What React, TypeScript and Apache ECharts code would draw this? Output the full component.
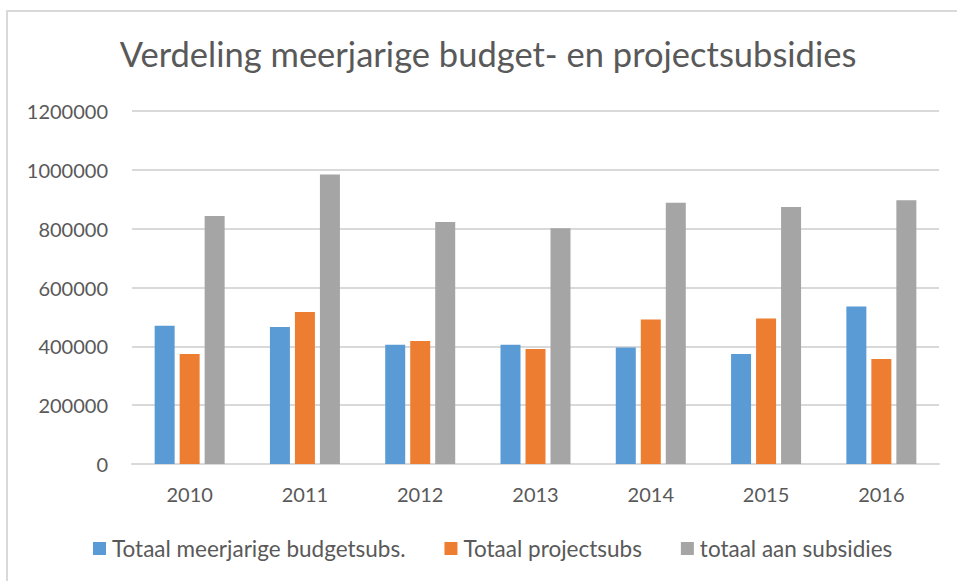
import React, { useEffect, useRef } from "react";
import * as echarts from "echarts";

const years = ["2010", "2011", "2012", "2013", "2014", "2015", "2016"];
const budgetSubs = [470000, 466000, 405000, 405000, 396000, 374000, 535000];
const projectSubs = [374000, 517000, 418000, 391000, 491000, 495000, 357000];
const totalSubs = [843000, 984000, 823000, 801000, 888000, 874000, 897000];
const seriesNames = [
  "Totaal meerjarige budgetsubs.",
  "Totaal projectsubs",
  "totaal aan subsidies",
];
const colors = ["#5B9BD5", "#ED7D31", "#A5A5A5"];
const titleText = "Verdeling meerjarige budget- en projectsubsidies";

export default function App() {
  const ref = useRef<HTMLDivElement>(null);
  useEffect(() => {
    if (!ref.current) return;
    const chart = echarts.init(ref.current, undefined, { renderer: "svg" });
    const font = "Lato, 'Open Sans', sans-serif";
    const textColor = "#595959";
    const dataSets = [budgetSubs, projectSubs, totalSubs];
    chart.setOption({
      animation: false,
      backgroundColor: "#ffffff",
      textStyle: { fontFamily: font },
      graphic: [
        {
          type: "rect",
          shape: { x: 7, y: 11, width: 1000, height: 1000 },
          style: { fill: "none", stroke: "#d9d9d9", lineWidth: 2 },
          silent: true,
        },
      ],
      title: {
        text: titleText,
        left: 488,
        textAlign: "center",
        top: 36,
        padding: 0,
        textStyle: {
          fontFamily: font,
          fontSize: 34.5,
          fontWeight: "normal",
          color: textColor,
        },
      },
      legend: {
        data: seriesNames,
        left: 93,
        top: 537,
        padding: 0,
        itemWidth: 13,
        itemHeight: 13,
        itemGap: 39,
        icon: "rect",
        textStyle: { fontFamily: font, fontSize: 22.5, color: textColor, padding: [0, 0, 0, 1] },
      },
      grid: { left: 132, right: 18, top: 111, bottom: 117, containLabel: false },
      xAxis: {
        type: "category",
        data: years,
        axisLine: { lineStyle: { color: "#d9d9d9", width: 2 } },
        axisTick: { show: false },
        axisLabel: { fontFamily: font, fontSize: 20, color: textColor, margin: 20 },
      },
      yAxis: {
        type: "value",
        min: 0,
        max: 1200000,
        interval: 200000,
        axisLine: { show: false },
        axisTick: { show: false },
        axisLabel: {
          fontFamily: font,
          fontSize: 20,
          color: textColor,
          margin: 24,
          formatter: (v: number) => String(v),
        },
        splitLine: { lineStyle: { color: "#d9d9d9", width: 2 } },
      },
      series: seriesNames.map((name, i) => ({
        name,
        type: "bar",
        data: dataSets[i],
        barWidth: 20,
        barGap: "25%",
        itemStyle: { color: colors[i] },
      })),
    });
    return () => chart.dispose();
  }, []);
  return (
    <div
      ref={ref}
      style={{ position: "fixed", left: 0, top: 0, width: 957, height: 581 }}
    />
  );
}
